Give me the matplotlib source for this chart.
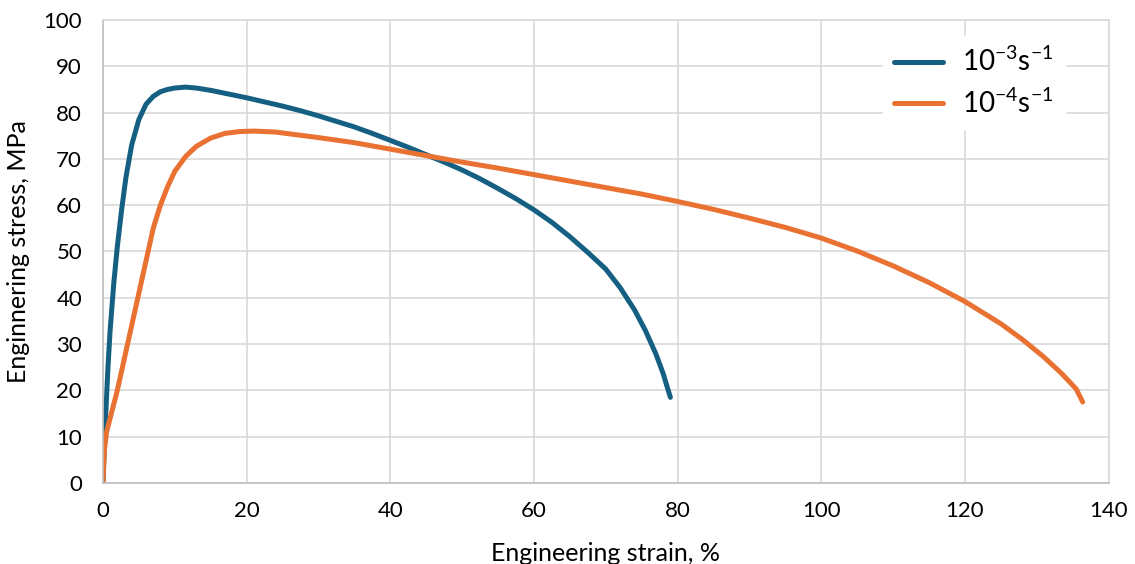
import matplotlib.pyplot as plt

plt.rcParams['font.family'] = ['Lato', 'DejaVu Sans']

# strain (%) / stress (MPa)
strain_fast = [0, 0.3, 0.7, 1.0, 1.5, 2.0, 2.6, 3.2, 4.0, 5.0, 6.0, 7.0, 8.0, 9.0, 10.0, 11.5, 13, 15,
               17.5, 20, 22.5, 25, 27.5, 30, 32.5, 35, 37.5, 40, 42.5, 45, 47.5, 50, 52.5, 55, 57.5,
               60, 62.5, 65, 67.5, 70, 72, 74, 75.5, 77, 78, 78.6, 79.0]
stress_fast = [0, 12, 25, 33, 43, 51, 59, 66, 73, 78.5, 81.8, 83.5, 84.5, 85.0, 85.3, 85.5, 85.3, 84.8,
               84.0, 83.2, 82.3, 81.4, 80.4, 79.3, 78.1, 76.9, 75.5, 74.0, 72.5, 70.9, 69.3, 67.6, 65.7, 63.6, 61.4,
               59.0, 56.3, 53.2, 49.8, 46.2, 42.2, 37.4, 33.0, 27.8, 23.6, 20.5, 18.5]

strain_slow = [0, 0.2, 0.5, 1.0, 1.5, 2.0, 3.0, 4.0, 5.0, 6.0, 7.0, 8.0, 9.0, 10.0, 11.5, 13, 15, 17, 19,
               21, 24, 27, 30, 35, 40, 45, 50, 55, 60, 65, 70, 75, 80, 85, 90, 95, 100, 105, 110,
               115, 120, 125, 128, 131, 133.5, 135.5, 136.4]
stress_slow = [0, 7, 11, 14, 17, 20, 27, 34, 41, 48, 55, 60, 64, 67.3, 70.5, 72.7, 74.5, 75.5, 75.9,
               76.0, 75.8, 75.2, 74.6, 73.5, 72.1, 70.7, 69.3, 68.0, 66.6, 65.2, 63.8, 62.4, 60.8, 59.1, 57.2, 55.2, 52.9, 50.1, 46.9,
               43.3, 39.2, 34.4, 31.0, 27.2, 23.6, 20.3, 17.5]

labels = [r'$\mathregular{10^{-3}s^{-1}}$', r'$\mathregular{10^{-4}s^{-1}}$']
colors = ['#156082', '#E97132']

fig = plt.figure(figsize=(11.35, 5.64), dpi=100)
ax = fig.add_axes([0.0907, 0.1436, 0.886, 0.821])

ax.plot(strain_fast, stress_fast, color=colors[0], lw=3.6, label=labels[0], solid_capstyle='round')
ax.plot(strain_slow, stress_slow, color=colors[1], lw=3.6, label=labels[1], solid_capstyle='round')

ax.set_xlim(0, 140)
ax.set_ylim(0, 100)
ax.set_xticks(range(0, 141, 20))
ax.set_yticks(range(0, 101, 10))
ax.grid(True, color='#d9d9d9', lw=1.2)
ax.set_axisbelow(True)
for s in ax.spines.values():
    s.set_color('#d9d9d9')
    s.set_linewidth(1.2)
ax.spines['left'].set_color('#bfbfbf')
ax.spines['bottom'].set_color('#bfbfbf')
ax.tick_params(axis='both', length=0, labelsize=16)
ax.tick_params(axis='y', pad=15)
ax.tick_params(axis='x', pad=13)

# the reference has this label running off the bottom edge
ax.set_xlabel('Engineering strain, %', fontsize=18, labelpad=15)
ax.set_ylabel('Enginnering stress, MPa', fontsize=18, labelpad=10)

leg = ax.legend(loc='upper left', bbox_to_anchor=(0.762, 0.995), fontsize=20, frameon=True,
                fancybox=False, edgecolor='white', framealpha=1, handlelength=1.75,
                handletextpad=0.7, labelspacing=0.45, borderpad=0.4)

fig.savefig('out.png', dpi=100)
